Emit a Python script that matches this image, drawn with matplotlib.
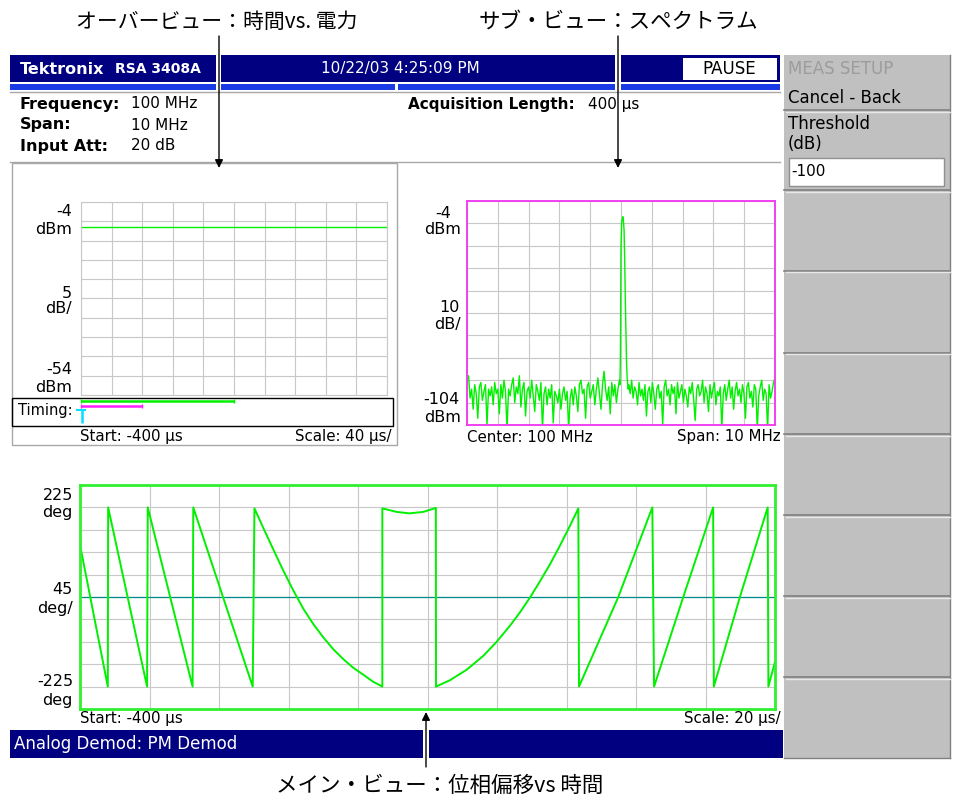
import matplotlib.pyplot as plt
from matplotlib.patches import Rectangle
import numpy as np

plt.rcParams['font.family'] = ['DejaVu Sans', 'Noto Sans CJK JP']
JP = ['Noto Sans CJK JP', 'DejaVu Sans']

# ---- data ----
# overview: power vs time (Start -400 us, 40 us/div)
overview_t = [-400, 0]
overview_dbm = [-10.4, -10.4]
# timing bars on the overview: main view span, spectrum span, trigger
main_span = [-400, -200]
spec_span = [-400, -320]
trigger_t = -400

# sub view: spectrum, center 100 MHz, span 10 MHz
noise_left = [-84, -82, -92, -88, -97, -86, -90, -101, -87, -85,
              -93, -89, -86, -104, -88, -91, -87, -95, -85, -90,
              -88, -99, -86, -92, -84, -89, -106, -88, -91, -86,
              -83, -94, -87, -90, -82, -96, -88, -85, -100, -89,
              -87, -92, -84, -91, -98, -86, -89, -93, -85, -106,
              -90, -87, -95, -88, -92, -86, -103, -89, -91, -94,
              -88, -97, -90, -87, -93, -89, -106, -92, -88, -95,
              -87, -91, -98, -86, -84, -90, -88, -101, -87, -85,
              -92, -89, -86, -95, -88, -83, -90, -97, -86, -80,
              -88, -93, -87, -99, -85, -91, -86, -94, -88, -84]
peak_f = [99.965, 99.98, 99.99, 100.0, 100.02, 100.04, 100.06, 100.08,
          100.1, 100.12, 100.14, 100.16, 100.18, 100.2, 100.235]
peak_dbm = [-86, -74, -48, -24, -14, -12, -11, -13, -17, -30, -48, -62, -76, -83, -88]
noise_right = [-86, -90, -84, -92, -87, -89, -95, -85, -91, -88,
               -93, -86, -100, -89, -87, -94, -85, -90, -97, -88,
               -86, -92, -89, -104, -87, -84, -91, -88, -95, -86,
               -90, -87, -99, -85, -92, -89, -86, -94, -88, -91,
               -96, -87, -90, -85, -93, -102, -88, -86, -91, -89,
               -84, -94, -87, -90, -98, -86, -92, -88, -85, -95,
               -89, -91, -87, -106, -90, -86, -93, -88, -84, -92,
               -87, -97, -89, -85, -91, -88, -94, -86, -90, -101,
               -87, -85, -92, -89, -96, -86, -88, -106, -91, -87,
               -84, -93, -88, -90, -106, -86, -92, -89, -85, -83]

# main view: phase (deg) vs time (us)
phase_t = [-400.0, -392.0, -391.9, -380.7, -380.5, -367.6, -367.4, -350.3,
           -349.8, -347.2, -344.4, -341.5, -338.6, -335.7, -332.9, -330.0,
           -327.1, -324.2, -321.4, -318.5, -315.7, -313.0,
           -313.0, -308.9, -305.2, -301.2, -297.6,
           -297.55, -293.5, -288.7, -283.9, -280.1, -276.3, -273.4, -270.5,
           -267.6, -264.8, -261.9, -259.0, -256.6,
           -256.4, -245.1, -235.3,
           -234.8, -226.4, -217.8,
           -217.6, -210.1, -202.1,
           -201.9, -200.0]
phase_deg = [105, -180, 180, -180, 180, -180, 180, -180,
             178, 138, 96, 53, 13, -24, -54, -81,
             -105, -125, -142, -156, -170, -180,
             178, 171, 168, 171, 179,
             -180, -167, -146, -118, -90, -58, -31, -1,
             32, 65, 103, 143, 178,
             -180, 0, 180,
             -180, 0, 180,
             -180, 0, 180,
             -180, -130]

NAVY = '#000080'
BLUE = '#1a3ae6'
GREEN = '#00f000'
GRID = '#c8c8c8'
PANEL = '#c0c0c0'

W, H = 956, 799
fig = plt.figure(figsize=(W / 100, H / 100), dpi=100)
bg = fig.add_axes([0, 0, 1, 1])
bg.set_xlim(0, W)
bg.set_ylim(H, 0)
bg.axis('off')


def box(x0, y0, x1, y1, **kw):
    bg.add_patch(Rectangle((x0, y0), x1 - x0, y1 - y0, **kw))


def px_axes(x0, y0, x1, y1):
    return fig.add_axes([x0 / W, 1 - y1 / H, (x1 - x0) / W, (y1 - y0) / H])


def grid_axes(ax, xlim, ylim, edge, lw):
    ax.set_xlim(*xlim)
    ax.set_ylim(*ylim)
    ax.set_xticks(np.linspace(xlim[0], xlim[1], 11))
    ax.set_yticks(np.linspace(ylim[0], ylim[1], 11))
    ax.tick_params(length=0, labelbottom=False, labelleft=False)
    ax.grid(True, color=GRID, lw=0.8)
    ax.set_axisbelow(True)
    for s in ax.spines.values():
        s.set_color(edge)
        s.set_linewidth(lw)


# title bar
for x0, x1 in [(10, 216.5), (221.5, 615.5), (621, 780)]:
    box(x0, 55, x1, 82, fc=NAVY, ec='none')
for x0, x1 in [(10, 216.5), (221.5, 395.5), (398.5, 615.5), (621, 780)]:
    box(x0, 83.5, x1, 89.5, fc=BLUE, ec='none')
box(683, 58, 777, 80, fc='white', ec='none')
bg.text(20, 69, 'Tektronix', color='white', fontsize=11.5, fontweight='bold', va='center')
bg.text(115, 69, 'RSA 3408A', color='white', fontsize=10, fontweight='bold', va='center')
bg.text(400, 69, '10/22/03 4:25:09 PM', color='white', fontsize=11, ha='center', va='center')
bg.text(729, 69, 'PAUSE', color='black', fontsize=12, ha='center', va='center')
bg.plot([10, 780], [92, 92], color='#a8a8a8', lw=1)
bg.plot([10, 780], [162, 162], color='#a8a8a8', lw=1)

# setup info
for y, lab, val in [(104, 'Frequency:', '100 MHz'), (125, 'Span:', '10 MHz'),
                    (146, 'Input Att:', '20 dB')]:
    bg.text(20, y, lab, fontsize=11.5, fontweight='bold', va='center')
    bg.text(131, y, val, fontsize=11, va='center')
bg.text(408, 104, 'Acquisition Length:', fontsize=11, fontweight='bold', va='center')
bg.text(588, 104, '400 µs', fontsize=11, va='center')

# side menu
box(784, 55, 950, 758, fc=PANEL, ec='none')
bg.plot([950, 950], [55, 758], color='#808080', lw=1)
bg.plot([784, 950], [757.5, 757.5], color='#808080', lw=1)
bg.text(788, 69, 'MEAS SETUP', color='#9c9c9c', fontsize=12, va='center')
bg.text(788, 98, 'Cancel - Back', fontsize=12, va='center')
bg.text(788, 124, 'Threshold', fontsize=12, va='center')
bg.text(788, 144, '(dB)', fontsize=12, va='center')
box(789, 158, 944, 186, fc='white', ec='#909090', lw=1)
bg.text(791, 172, '-100', fontsize=11, va='center')
for y in [110, 190, 270.7, 352.7, 434, 515, 596, 677.3]:
    bg.plot([784, 950], [y, y], color='#808080', lw=1.2)
    bg.plot([786, 950], [y + 1.6, y + 1.6], color='#e8e8e8', lw=1)

# overview panel
box(12, 163, 397, 445, fc='none', ec='#a8a8a8', lw=1)
box(12.5, 397.5, 393, 426, fc='none', ec='black', lw=1)
bg.text(18, 411, 'Timing:', fontsize=10.5, va='center')
ov = px_axes(81, 202, 387, 395)
grid_axes(ov, (-400, 0), (-54, -4), GRID, 0.8)
ov.plot(overview_t, overview_dbm, color=GREEN, lw=1)
for y, t in [(212, '-4'), (230, 'dBm'), (293, '5'), (309, 'dB/'), (370, '-54'), (387, 'dBm')]:
    bg.text(72, y, t, fontsize=11.5, ha='right', va='center')
bg.text(80, 436, 'Start: -400 µs', fontsize=10.8, va='center')
bg.text(392, 436, 'Scale: 40 µs/', fontsize=10.8, ha='right', va='center')

tm = px_axes(81, 397, 387, 426)
tm.set_xlim(-400, 0)
tm.set_ylim(29, 0)
tm.axis('off')
for span, y, c in [(main_span, 3.7, GREEN), (spec_span, 9.3, '#ff20ff')]:
    tm.plot(span, [y, y], color=c, lw=1.8, solid_capstyle='butt', clip_on=False)
    tm.vlines(span, y - 2, y + 2, color=c, lw=1, clip_on=False)
tm.plot([trigger_t - 5, trigger_t + 5], [13, 13], color='#00e0ff', lw=1.5, clip_on=False)
tm.vlines(trigger_t + 1.2, 13, 26, color='#00e0ff', lw=1.8, clip_on=False)

# spectrum sub view
sp = px_axes(467, 201, 775, 425)
grid_axes(sp, (95, 105), (-104, -4), '#f040f0', 1.4)
spec_f = np.concatenate([np.linspace(95.0, 99.95, len(noise_left)), peak_f,
                         np.linspace(100.25, 105.0, len(noise_right))])
spec_dbm = np.concatenate([noise_left, peak_dbm, noise_right])
sp.plot(spec_f, spec_dbm, color=GREEN, lw=1.0)
for x, y, t in [(451, 213, '-4'), (461, 229, 'dBm'), (460, 307, '10'), (461, 324, 'dB/'),
                (460, 399, '-104'), (461, 417, 'dBm')]:
    bg.text(x, y, t, fontsize=11.5, ha='right', va='center')
bg.text(467, 437, 'Center: 100 MHz', fontsize=10.8, va='center')
bg.text(781, 437, 'Span: 10 MHz', fontsize=10.8, ha='right', va='center')

# main view
mv = px_axes(80, 485, 775, 709)
grid_axes(mv, (-400, -200), (-225, 225), '#30f030', 2)
mv.axhline(0, color='#008b8b', lw=0.9)
mv.plot(phase_t, phase_deg, color=GREEN, lw=1.4)
for y, t in [(495, '225'), (513, 'deg'), (590, '45'), (608, 'deg/'), (682, '-225'), (700, 'deg')]:
    bg.text(73, y, t, fontsize=11.5, ha='right', va='center')
bg.text(80, 719, 'Start: -400 µs', fontsize=10.8, va='center')
bg.text(781, 719, 'Scale: 20 µs/', fontsize=10.8, ha='right', va='center')

# status bar
for x0, x1 in [(10, 423), (429.5, 783)]:
    box(x0, 729.5, x1, 757.5, fc=NAVY, ec='none')
bg.text(14, 744, 'Analog Demod: PM Demod', color='white', fontsize=12, va='center')

# callouts
bg.text(217, 22, 'オーバービュー：時間vs. 電力', family=JP, fontsize=15, ha='center', va='center')
bg.text(618, 22, 'サブ・ビュー：スペクトラム', family=JP, fontsize=15.5, ha='center', va='center')
bg.text(440, 786, 'メイン・ビュー：位相偏移vs 時間', family=JP, fontsize=15.5, ha='center', va='center')
for x, y0, y1 in [(219, 36, 168), (618, 36, 168), (426, 767, 712)]:
    bg.annotate('', xy=(x, y1), xytext=(x, y0),
                arrowprops=dict(arrowstyle='-|>', color='black', lw=1, mutation_scale=12,
                                shrinkA=0, shrinkB=0))

fig.savefig('out.png', dpi=100)
